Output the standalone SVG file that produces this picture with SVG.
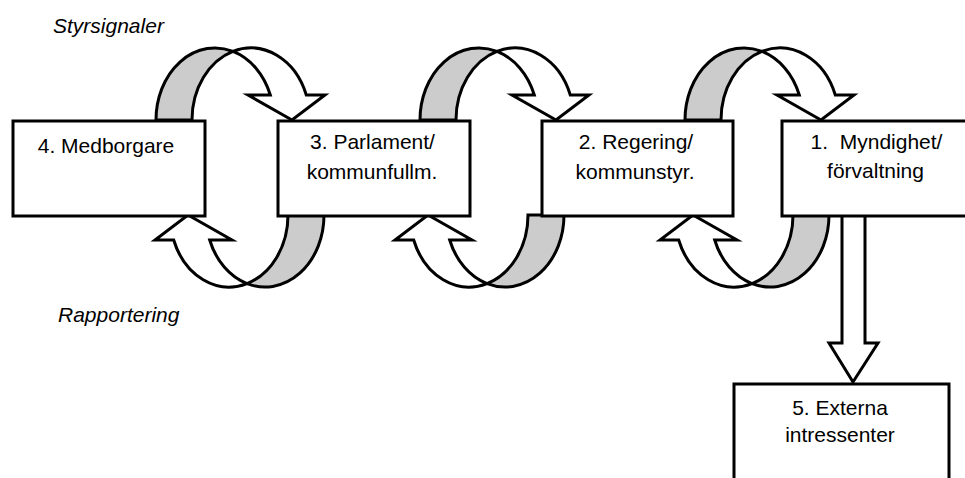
<svg xmlns="http://www.w3.org/2000/svg" xmlns:xlink="http://www.w3.org/1999/xlink" width="965" height="478" viewBox="0 0 965 478">
<style>
.box{fill:#fff;stroke:#000;stroke-width:3}
.band{fill:#cccccc;stroke:#000;stroke-width:3;stroke-linejoin:miter}
.front{fill:#fff;stroke:#000;stroke-width:3;stroke-linejoin:miter}
text{font-family:"Liberation Sans",Arial,sans-serif;font-size:21px;fill:#000}
.lbl{font-style:italic}
.c{text-anchor:middle}
</style>
<defs>
<g id="loopUp">
<path class="band" d="M156,120 A59,72 0 0 1 233,51.4 A59,72 0 0 0 192,120 Z"/>
<path class="front" d="M233,51.4 A59,72 0 0 1 306.3,95 L325,95 L292,120 L248,95 L270.3,95 A59,72 0 0 0 233,51.4 Z"/>
</g>
</defs>
<g id="connectors">
<use xlink:href="#loopUp"/>
<use xlink:href="#loopUp" transform="translate(264,0)"/>
<use xlink:href="#loopUp" transform="translate(529,0)"/>
<use xlink:href="#loopUp" transform="rotate(180,240,167.5)"/>
<use xlink:href="#loopUp" transform="translate(240,0) rotate(180,240,167.5)"/>
<use xlink:href="#loopUp" transform="translate(505,0) rotate(180,240,167.5)"/>
<path class="front" d="M842,216 V343 H829 L853,382 L878,343 H865 V216"/>
</g>
<g id="node4">
<rect class="box" x="13" y="121" width="192" height="95"/>
<text class="c" x="106" y="153">4. Medborgare</text>
</g>
<g id="node3">
<rect class="box" x="278" y="121" width="192" height="95"/>
<text class="c" x="372.5" y="149">3. Parlament/</text>
<text class="c" x="372" y="179">kommunfullm.</text>
</g>
<g id="node2">
<rect class="box" x="542" y="121" width="191" height="95"/>
<text class="c" x="636" y="149">2. Regering/</text>
<text class="c" x="635" y="179">kommunstyr.</text>
</g>
<g id="node1">
<rect class="box" x="782" y="121" width="210" height="95"/>
<text class="c" x="876.5" y="149">1.&#160; Myndighet/</text>
<text class="c" x="875.5" y="178">förvaltning</text>
</g>
<g id="node5">
<rect class="box" x="734" y="384" width="215" height="120"/>
<text class="c" x="840" y="415">5. Externa</text>
<text class="c" x="840" y="442">intressenter</text>
</g>
<g id="labels">
<text class="lbl" x="53" y="33">Styrsignaler</text>
<text class="lbl" x="58" y="322">Rapportering</text>
</g>
</svg>
